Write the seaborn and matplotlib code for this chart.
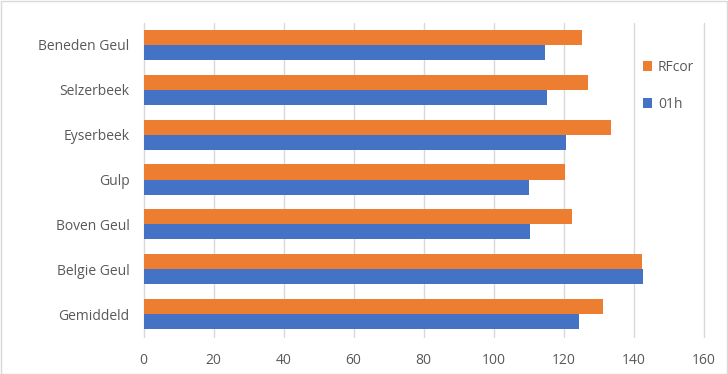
import matplotlib
matplotlib.use("Agg")
import matplotlib.pyplot as plt
import seaborn as sns
import pandas as pd
from matplotlib.patches import Rectangle

categories = ["Beneden Geul", "Selzerbeek", "Eyserbeek", "Gulp", "Boven Geul", "Belgie Geul", "Gemiddeld"]
rfcor = [125.1, 126.8, 133.4, 120.3, 122.3, 142.2, 131.1]
h01 = [114.6, 115.2, 120.6, 110.0, 110.3, 142.5, 124.3]
series = ["RFcor", "01h"]
ticks = [0, 20, 40, 60, 80, 100, 120, 140, 160]

df = pd.DataFrame({
    "cat": categories * 2,
    "val": rfcor + h01,
    "series": [series[0]] * len(categories) + [series[1]] * len(categories),
})

sns.set_style("white")
plt.rcParams["font.family"] = ["Open Sans", "DejaVu Sans"]
txt = "#595959"

fig = plt.figure(figsize=(7.28, 3.74), dpi=100)
ax = fig.add_axes([143.5 / 728, 1 - 336.5 / 374, (704 - 143.5) / 728, (336.5 - 22.5) / 374])
sns.barplot(data=df, y="cat", x="val", hue="series", hue_order=series, order=categories,
            palette=["#ED7D31", "#4472C4"], orient="h", width=0.67, ax=ax, saturation=1,
            linewidth=0, edgecolor="none")

ax.set_xlim(0, 160)
ax.set_xticks(ticks)
ax.set_xticklabels([str(t) for t in ticks])
ax.xaxis.grid(True, color="#D9D9D9", linewidth=1)
for gl in ax.get_xgridlines():
    gl.set_clip_on(False)
ax.set_axisbelow(True)
for s in ax.spines.values():
    s.set_visible(False)
ax.set_xlabel("")
ax.set_ylabel("")
ax.tick_params(axis="x", colors=txt, labelsize=10, length=0, pad=12)
ax.tick_params(axis="y", colors=txt, labelsize=10, length=0, pad=10)
for lab in ax.get_xticklabels() + ax.get_yticklabels():
    lab.set_color(txt)

leg = ax.legend(loc="upper left", bbox_to_anchor=(630 / 728, 1 - 47 / 374), bbox_transform=fig.transFigure,
                frameon=False, fontsize=10, labelspacing=1.6, handlelength=0.7, handleheight=0.7,
                handletextpad=0.4, labelcolor=txt)

fig.patches.append(Rectangle((0.5 / 728, 0.5 / 374), 726.5 / 728, 372.5 / 374, transform=fig.transFigure,
                             fill=False, edgecolor="#D9D9D9", linewidth=1))

fig.savefig("out.png", dpi=100)
